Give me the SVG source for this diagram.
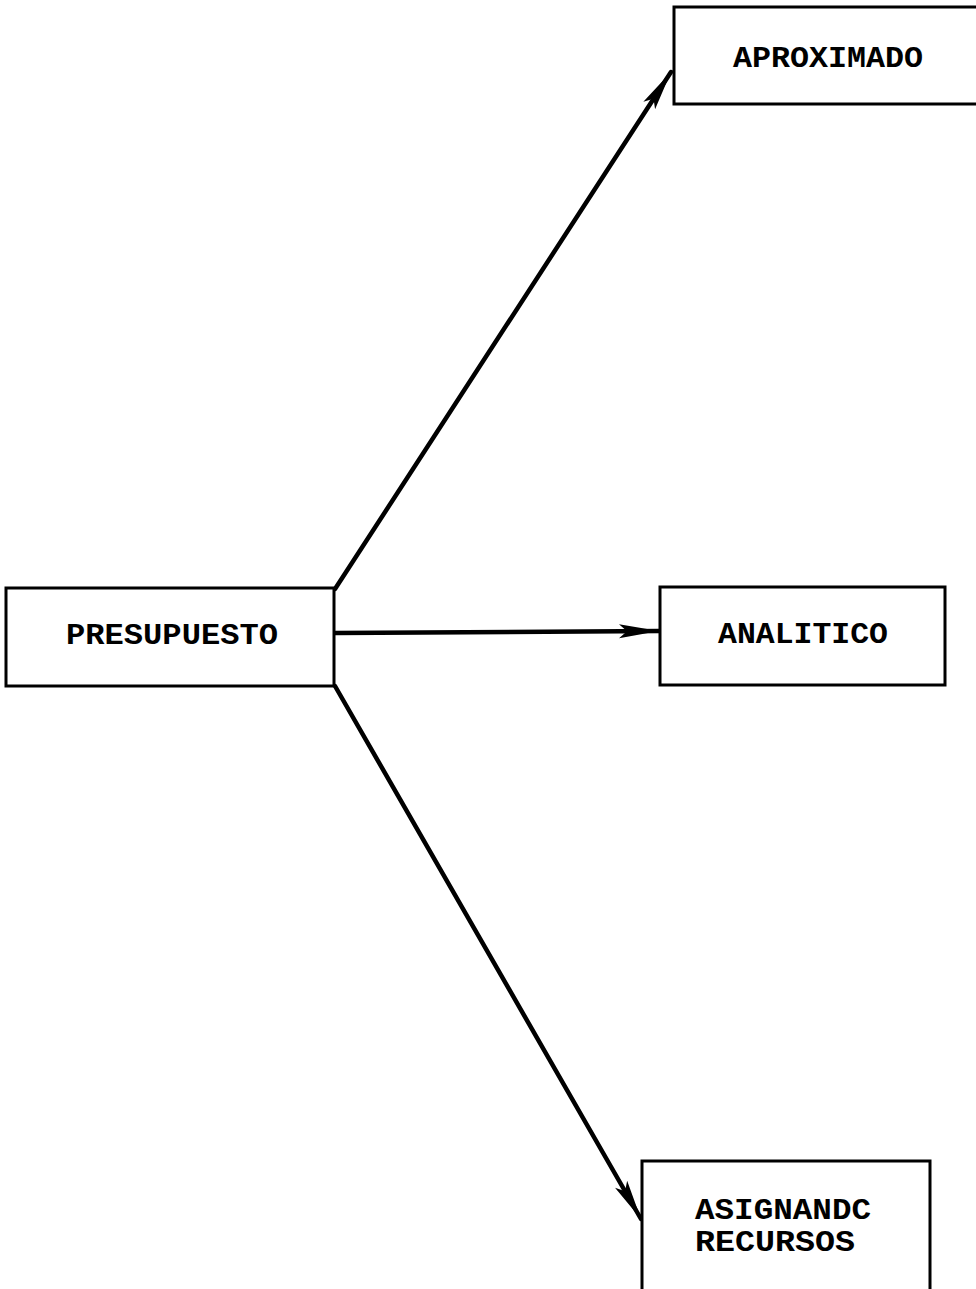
<svg xmlns="http://www.w3.org/2000/svg" width="976" height="1289" viewBox="0 0 976 1289">
<style>
.box{fill:#fff;stroke:#000;stroke-width:3}
.lbl{font-family:"Liberation Mono","DejaVu Sans Mono",monospace;font-size:30px;font-weight:bold;fill:#000}
.conn{stroke:#000;stroke-width:4.5;fill:none;stroke-linecap:round}
</style>
<defs>
<marker id="ah" markerUnits="userSpaceOnUse" markerWidth="44" markerHeight="20" refX="40" refY="10" orient="auto" viewBox="0 0 44 20">
<path d="M0,3 L40,10 L0,17 L8,10 z" fill="#000"/>
</marker>
</defs>
<rect width="976" height="1289" fill="#fff"/>
<g id="connectors">
<path class="conn" d="M335,589 L671,72" marker-end="url(#ah)"/>
<path class="conn" d="M335,633 L659,631" marker-end="url(#ah)"/>
<path class="conn" d="M335,686 L641,1219" marker-end="url(#ah)"/>
</g>
<g id="aproximado">
<rect class="box" x="674" y="7" width="320" height="97"/>
<text class="lbl" x="828" y="67" text-anchor="middle" textLength="190" lengthAdjust="spacingAndGlyphs">APROXIMADO</text>
</g>
<g id="presupuesto">
<rect class="box" x="6" y="588" width="328" height="98"/>
<text class="lbl" x="172" y="644" text-anchor="middle" textLength="212" lengthAdjust="spacingAndGlyphs">PRESUPUESTO</text>
</g>
<g id="analitico">
<rect class="box" x="660" y="587" width="285" height="98"/>
<text class="lbl" x="803" y="643" text-anchor="middle" textLength="170" lengthAdjust="spacingAndGlyphs">ANALITICO</text>
</g>
<g id="asignando">
<rect class="box" x="642" y="1161" width="288" height="150"/>
<text class="lbl" x="695" y="1219" textLength="176" lengthAdjust="spacingAndGlyphs">ASIGNANDC</text>
<text class="lbl" x="695" y="1251" textLength="160" lengthAdjust="spacingAndGlyphs">RECURSOS</text>
</g>
</svg>
